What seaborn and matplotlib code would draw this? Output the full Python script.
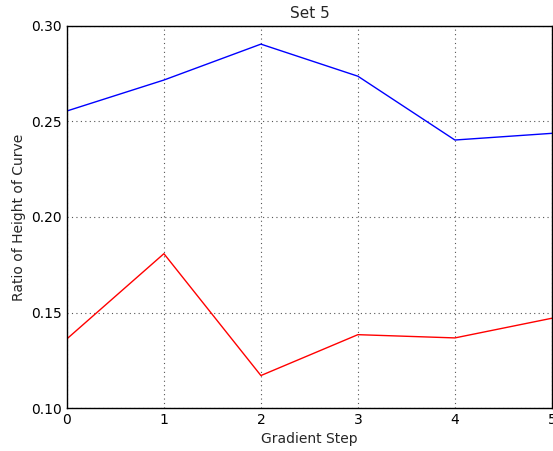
import matplotlib
matplotlib.use("Agg")
import matplotlib.pyplot as plt
import seaborn as sns
import pandas as pd

steps = [0, 1, 2, 3, 4, 5]
blue_vals = [0.2555, 0.2717, 0.2905, 0.2737, 0.2403, 0.2438]
red_vals = [0.1362, 0.1808, 0.1170, 0.1384, 0.1367, 0.1470]
xticks = [0, 1, 2, 3, 4, 5]
yticks = [0.10, 0.15, 0.20, 0.25, 0.30]

sns.set_style("white")
plt.rcParams['font.family'] = ['DejaVu Sans']

df = pd.DataFrame({"step": steps + steps,
                   "val": blue_vals + red_vals,
                   "series": ["blue"] * len(steps) + ["red"] * len(steps)})

fig = plt.figure(figsize=(5.53, 4.51), dpi=100)
ax = fig.add_axes([0.121, 0.0953, 0.877, 0.8471])
sns.lineplot(data=df, x="step", y="val", hue="series",
             palette={"blue": "#0000ff", "red": "#ff0000"},
             linewidth=1.0, legend=False, ax=ax)
ax.set_xlim(0, 5)
ax.set_ylim(0.10, 0.30)
ax.set_xticks(xticks)
ax.set_yticks(yticks)
ax.set_yticklabels([f"{v:.2f}" for v in yticks])
ax.grid(True, linestyle=(0, (1, 3)), color="#555555", linewidth=0.8)
ax.tick_params(direction="in", length=4, labelsize=10, colors="black")
for s in ax.spines.values():
    s.set_color("black")
    s.set_linewidth(1.0)
ax.set_title("Set 5", fontsize=11)
ax.set_xlabel("Gradient Step", fontsize=10)
ax.set_ylabel("Ratio of Height of Curve", fontsize=10)
fig.savefig("out.png", dpi=100)
